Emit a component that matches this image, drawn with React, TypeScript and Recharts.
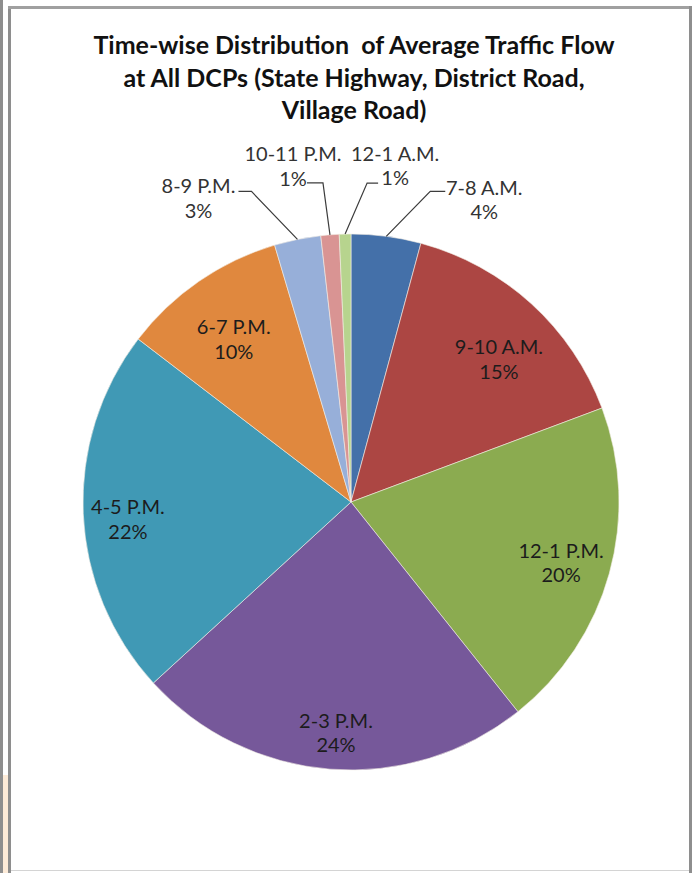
import React from 'react';
import { PieChart, Pie, Cell } from 'recharts';

// ---- data ----
const categories = ['7-8 A.M.', '9-10 A.M.', '12-1 P.M.', '2-3 P.M.', '4-5 P.M.', '6-7 P.M.', '8-9 P.M.', '10-11 P.M.', '12-1 A.M.'];
const shares = [4.2, 15.1, 20.0, 23.9, 22.2, 10.0, 2.8, 1.1, 0.7];
const titleLines = [
  'Time-wise Distribution  of Average Traffic Flow',
  'at All DCPs (State Highway, District Road,',
  'Village Road)',
];

// ---- styles ----
const COLORS = ['#4470A9', '#AC4643', '#8BAB50', '#76589A', '#4099B5', '#E0883E', '#97AFD9', '#D99493', '#B7D48E'];
const FONT = "Lato, 'Open Sans', 'DejaVu Sans', sans-serif";
const RAD = Math.PI / 180;

// inside labels: radius factor and clockwise angle nudge (deg)
const INSIDE_LAYOUT: Record<number, { rf: number; da: number }> = {
  1: { rf: 0.765, da: 3.9 },
  2: { rf: 0.817, da: 0.9 },
  3: { rf: 0.867, da: -0.8 },
  4: { rf: 0.835, da: -2.1 },
  5: { rf: 0.745, da: -1.4 },
};
// outside labels: elbow offset from slice edge, tail length, text block offset from slice edge
const OUTSIDE_LAYOUT: Record<number, { elbow: [number, number]; tail: number; text: [number, number] }> = {
  0: { elbow: [44, -45], tail: 15, text: [98, -35.5] },
  6: { elbow: [-46, -48], tail: -13, text: [-99, -40] },
  7: { elbow: [-7, -52], tail: -16, text: [-37, -67.5] },
  8: { elbow: [22, -51], tail: 11, text: [50, -67.5] },
};

const data = categories.map((name, i) => ({ name, value: shares[i] }));

const LABEL_SIZE = 20;

const renderLabel = (props: any) => {
  const { cx, cy, midAngle, outerRadius, index, percent, name } = props;
  const pct = `${Math.round(percent * 100)}%`;
  const inside = INSIDE_LAYOUT[index];
  if (inside) {
    const a = (midAngle - inside.da) * RAD;
    const r = outerRadius * inside.rf;
    const x = cx + r * Math.cos(a);
    const y = cy - r * Math.sin(a);
    return (
      <g>
        <text x={x} y={y - 6} textAnchor="middle" fontFamily={FONT} fontSize={LABEL_SIZE} fill="#1c1c1c">{name}</text>
        <text x={x} y={y + 18.5} textAnchor="middle" fontFamily={FONT} fontSize={LABEL_SIZE} fill="#1c1c1c">{pct}</text>
      </g>
    );
  }
  const out = OUTSIDE_LAYOUT[index];
  if (!out) return null;
  const a = midAngle * RAD;
  const ex = cx + outerRadius * Math.cos(a);
  const ey = cy - outerRadius * Math.sin(a);
  const bx = ex + out.elbow[0];
  const by = ey + out.elbow[1];
  const tx = bx + out.tail;
  const lx = ex + out.text[0];
  const ly = ey + out.text[1];
  return (
    <g>
      <polyline points={`${ex},${ey} ${bx},${by} ${tx},${by}`} fill="none" stroke="#3c3c3c" strokeWidth={1.2} />
      <text x={lx} y={ly - 6} textAnchor="middle" fontFamily={FONT} fontSize={LABEL_SIZE} fill="#333">{name}</text>
      <text x={lx} y={ly + 18.5} textAnchor="middle" fontFamily={FONT} fontSize={LABEL_SIZE} fill="#333">{pct}</text>
    </g>
  );
};

export default function App() {
  return (
    <div style={{ position: 'absolute', left: 0, top: 0, width: 700, height: 873, background: '#fff', overflow: 'hidden' }}>
      <svg width={700} height={873} style={{ position: 'absolute', left: 0, top: 0 }}>
        <rect x={0} y={0} width={3} height={873} fill="#8e8e8e" />
        <rect x={3} y={775} width={5} height={98} fill="#FDEBD8" />
        <rect x={8} y={6} width={3} height={867} fill="#8e8e8e" />
        <rect x={8} y={6} width={684} height={3} fill="#a0a0a0" />
        <rect x={689} y={6} width={3} height={867} fill="#8e8e8e" />
        <rect x={11} y={870} width={678} height={1} fill="#d4d4d4" />
        {titleLines.map((t, i) => (
          <text
            key={i}
            x={354}
            y={54 + i * 32.5}
            textAnchor="middle"
            fontFamily={FONT}
            fontWeight={700}
            fontSize={25}
            fill="#111"
            style={{ whiteSpace: 'pre' }}
          >
            {t}
          </text>
        ))}
      </svg>
      <div style={{ position: 'absolute', left: 0, top: 0 }}>
        <PieChart width={700} height={873} margin={{ top: 0, right: 0, bottom: 0, left: 0 }}>
          <Pie
            data={data}
            dataKey="value"
            nameKey="name"
            cx={351}
            cy={502}
            outerRadius={268}
            startAngle={90}
            endAngle={-270}
            stroke="#f3eee6"
            strokeWidth={0.6}
            label={renderLabel}
            labelLine={false}
            isAnimationActive={false}
          >
            {data.map((d, i) => (
              <Cell key={d.name} fill={COLORS[i]} />
            ))}
          </Pie>
        </PieChart>
      </div>
    </div>
  );
}
